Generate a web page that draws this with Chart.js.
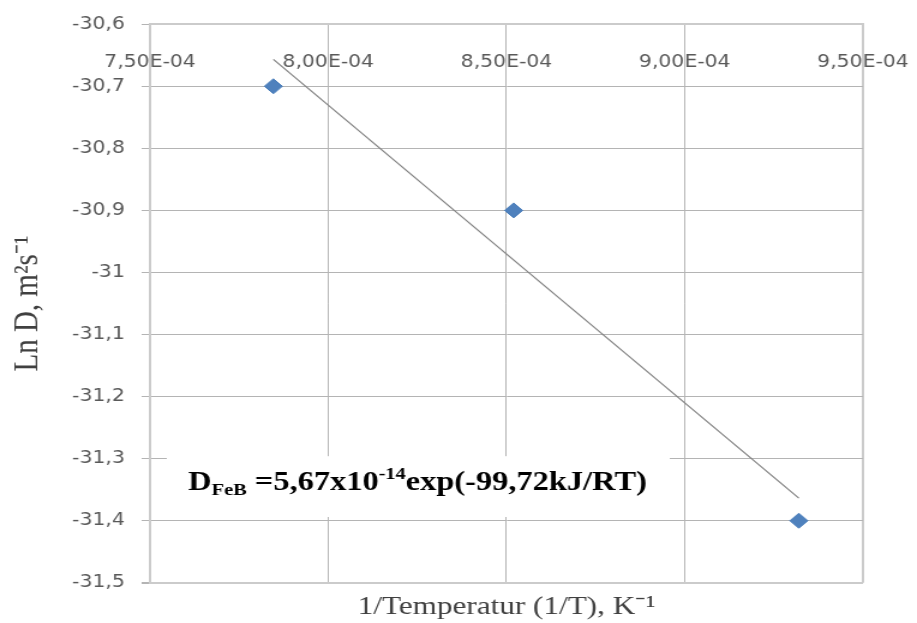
<!DOCTYPE html>
<html>
<head>
<meta charset="utf-8">
<script src="https://cdn.jsdelivr.net/npm/chart.js@4.4.1/dist/chart.umd.min.js"></script>
<style>
  html, body { margin: 0; padding: 0; background: #ffffff; }
  #c { display: block; }
</style>
</head>
<body>
<canvas id="c" width="764" height="623" style="width:917px;height:623px"></canvas>
<script>
// ---- data ----
const invT = [7.846e-4, 8.52e-4, 9.32e-4];          // 1/T, K^-1
const lnD  = [-30.7, -30.9, -31.4];                  // Ln D
const xTickValues = [7.5e-4, 8.0e-4, 8.5e-4, 9.0e-4, 9.5e-4];
const xTickLabels = ['7,50E-04', '8,00E-04', '8,50E-04', '9,00E-04', '9,50E-04'];
const yTickValues = [-31.5, -31.4, -31.3, -31.2, -31.1, -31.0, -30.9, -30.8, -30.7, -30.6];
const yTickLabels = ['-31,5', '-31,4', '-31,3', '-31,2', '-31,1', '-31', '-30,9', '-30,8', '-30,7', '-30,6'];
const xTitle = '1/Temperatur (1/T), K\u207B\u00B9';
const yTitle = 'Ln D, m\u00B2s\u207B\u00B9';
const eqParts = [
  { t: 'D', role: 'main' },
  { t: 'FeB', role: 'sub' },
  { t: ' =5,67x10', role: 'main' },
  { t: '-14', role: 'sup' },
  { t: 'exp(-99,72kJ/RT)', role: 'main' }
];

// least-squares trendline through the points (as Excel's linear trendline)
function linFit(xs, ys) {
  const n = xs.length;
  const mx = xs.reduce((a, b) => a + b, 0) / n;
  const my = ys.reduce((a, b) => a + b, 0) / n;
  let sxy = 0, sxx = 0;
  for (let i = 0; i < n; i++) { sxy += (xs[i] - mx) * (ys[i] - my); sxx += (xs[i] - mx) ** 2; }
  const b = sxy / sxx;
  return { a: my - b * mx, b };
}
const fit = linFit(invT, lnD);
const xMin = Math.min(...invT), xMax = Math.max(...invT);
const trend = [xMin, xMax].map(v => ({ x: v, y: fit.a + fit.b * v }));
const points = invT.map((v, i) => ({ x: v, y: lnD[i] }));

// equation annotation placement (in data units)
const eqBox = { x0: 7.547e-4, x1: 8.958e-4, yTop: -31.296, yBottom: -31.394 };
const eqAnchor = { x: 7.607e-4, y: -31.351 };

const eqPlugin = {
  id: 'eqPlugin',
  afterDatasetsDraw(chart) {
    const { ctx, scales: { x, y } } = chart;
    const bx0 = x.getPixelForValue(eqBox.x0), bx1 = x.getPixelForValue(eqBox.x1);
    const by0 = y.getPixelForValue(eqBox.yTop), by1 = y.getPixelForValue(eqBox.yBottom);
    ctx.save();
    ctx.fillStyle = '#ffffff';
    ctx.fillRect(bx0, by0, bx1 - bx0, by1 - by0);
    let cx = x.getPixelForValue(eqAnchor.x);
    const base = y.getPixelForValue(eqAnchor.y);
    ctx.fillStyle = '#000000';
    ctx.textBaseline = 'alphabetic';
    ctx.textAlign = 'left';
    const styles = { main: { size: 27, dy: 0 }, sub: { size: 17, dy: 5 }, sup: { size: 17, dy: -11 } };
    for (const p of eqParts) {
      const s = styles[p.role];
      ctx.font = `bold ${s.size}px "Liberation Serif", "Times New Roman", serif`;
      ctx.fillText(p.t, cx, base + s.dy);
      cx += ctx.measureText(p.t).width;
    }
    ctx.restore();
  }
};

const gridColor = '#b4b4b4';
const edgeColor = '#cbcbcb';

new Chart(document.getElementById('c'), {
  type: 'scatter',
  data: {
    datasets: [
      {
        type: 'line',
        label: 'trend',
        data: trend,
        borderColor: '#808080',
        borderWidth: 1.2,
        pointRadius: 0,
        fill: false,
        tension: 0
      },
      {
        label: 'Ln D',
        data: points,
        pointStyle: 'rectRot',
        pointRadius: 7.5,
        pointHoverRadius: 7.5,
        backgroundColor: '#4f81bd',
        borderColor: '#4a7ebb',
        borderWidth: 1
      }
    ]
  },
  options: {
    responsive: false,
    devicePixelRatio: 1,
    animation: false,
    events: [],
    layout: { padding: { left: 0, top: 0, right: 45, bottom: 0 } },
    plugins: {
      legend: { display: false },
      tooltip: { enabled: false },
      title: {
        display: true,
        position: 'bottom',
        fullSize: false,
        text: xTitle,
        color: '#404040',
        font: { family: '"Liberation Serif", "Times New Roman", serif', size: 26, weight: 'normal' },
        padding: { top: 9, bottom: 0 }
      }
    },
    scales: {
      x: {
        type: 'linear',
        position: 'top',
        min: xTickValues[0],
        max: xTickValues[xTickValues.length - 1],
        afterBuildTicks: s => { s.ticks = xTickValues.map(v => ({ value: v })); },
        afterFit: s => { s.height = 20; s.paddingLeft = 0; s.paddingRight = 0; },
        ticks: {
          autoSkip: false,
          maxRotation: 0,
          mirror: true,
          padding: 28,
          color: '#595959',
          font: { family: '"DejaVu Sans", sans-serif', size: 17 },
          callback: (v, i) => xTickLabels[i]
        },
        grid: {
          drawTicks: false,
          color: c => (c.index === xTickValues.length - 1 ? edgeColor : gridColor),
          lineWidth: c => (c.index === xTickValues.length - 1 ? 2 : 1)
        },
        border: { display: true, color: edgeColor, width: 2 }
      },
      y: {
        type: 'linear',
        min: yTickValues[0],
        max: yTickValues[yTickValues.length - 1],
        afterBuildTicks: s => { s.ticks = yTickValues.map(v => ({ value: v })); },
        afterFit: s => { s.width = 125; },
        ticks: {
          padding: 14,
          color: '#595959',
          font: { family: '"DejaVu Sans", sans-serif', size: 17 },
          callback: (v, i) => yTickLabels[i]
        },
        grid: {
          drawTicks: true,
          tickLength: 7,
          tickColor: gridColor,
          color: c => (c.index === 0 ? edgeColor : gridColor),
          lineWidth: c => (c.index === 0 ? 2 : 1)
        },
        border: { display: true, color: edgeColor, width: 2 },
        title: {
          display: true,
          text: yTitle,
          color: '#404040',
          font: { family: '"Liberation Serif", "Times New Roman", serif', size: 29, weight: 'normal' },
          padding: { top: 6, bottom: 0 }
        }
      }
    }
  },
  plugins: [eqPlugin]
});
</script>
</body>
</html>
